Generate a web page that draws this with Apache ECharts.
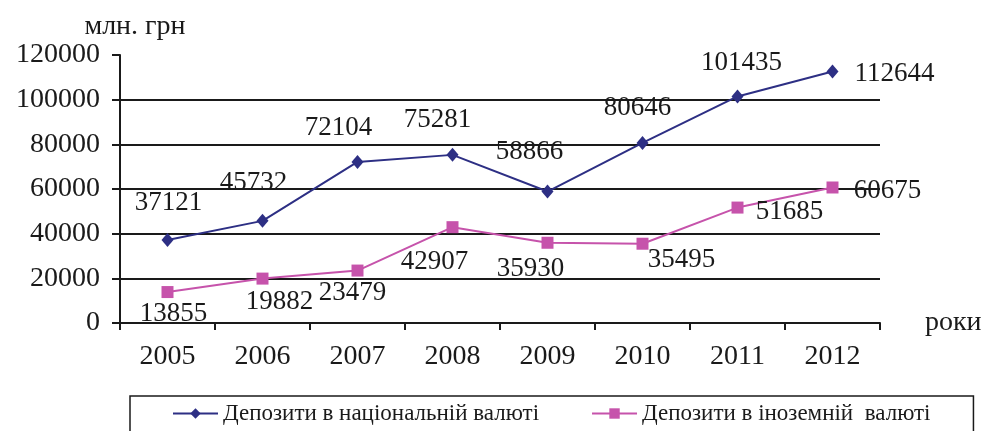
<!DOCTYPE html>
<html>
<head>
<meta charset="utf-8">
<script src="https://cdn.jsdelivr.net/npm/echarts@6/dist/echarts.min.js"></script>
<style>
html,body{margin:0;padding:0;background:#fff;}
#chart{width:985px;height:431px;}
</style>
</head>
<body>
<div id="chart"></div>
<script>
var years = ['2005','2006','2007','2008','2009','2010','2011','2012'];
var national = [37121, 45732, 72104, 75281, 58866, 80646, 101435, 112644];
var foreign = [13855, 19882, 23479, 42907, 35930, 35495, 51685, 60675];

// зсув підписів від точки (центр тексту відносно маркера)
var nationalLabelOffset = [[1,-37],[-9,-38],[-19,-34],[-15,-35],[-18,-40],[-5,-35],[4,-34],[62,2]];
var foreignLabelOffset = [[6,22],[17,23],[-5,22],[-18,35],[-17,26],[39,16],[52,4],[55,3]];

var font = 'Liberation Serif';
var nameNational = 'Депозити в національній валюті';
var nameForeign = 'Депозити в іноземній  валюті';

function withLabels(values, offsets){
    return values.map(function(v, i){
        return {
            value: v,
            label: {offset: offsets[i]}
        };
    });
}

var chart = echarts.init(document.getElementById('chart'));

var option = {
    animation: false,
    textStyle: {fontFamily: font},
    grid: {
        left: 120,
        right: 105,
        top: 55,
        bottom: 108
    },
    legend: {
        data: [nameNational, nameForeign],
        left: 130,
        top: 396,
        orient: 'horizontal',
        itemWidth: 45,
        itemHeight: 13,
        itemGap: 52,
        padding: [6, 43, 40, 42],
        borderColor: '#1a1a1a',
        borderWidth: 1.5,
        textStyle: {
            fontFamily: font,
            fontSize: 23,
            color: '#1a1a1a'
        }
    },
    xAxis: {
        type: 'category',
        data: years,
        boundaryGap: true,
        name: 'роки',
        nameLocation: 'end',
        nameGap: 45,
        nameTextStyle: {
            fontFamily: font,
            fontSize: 28,
            color: '#1a1a1a',
            padding: [20, 0, 0, 0]
        },
        axisLine: {lineStyle: {color: '#1a1a1a', width: 2}},
        axisTick: {show: true, length: 7, lineStyle: {color: '#1a1a1a', width: 2}},
        axisLabel: {
            fontFamily: font,
            fontSize: 28,
            color: '#1a1a1a',
            margin: 20
        },
        splitLine: {show: false}
    },
    yAxis: {
        type: 'value',
        min: 0,
        max: 120000,
        interval: 20000,
        name: 'млн. грн',
        nameLocation: 'end',
        nameGap: 13,
        nameTextStyle: {
            fontFamily: font,
            fontSize: 28,
            color: '#1a1a1a',
            padding: [0, 0, 0, 30]
        },
        axisLine: {show: true, lineStyle: {color: '#1a1a1a', width: 2}},
        axisTick: {show: true, length: 8, lineStyle: {color: '#1a1a1a', width: 2}},
        axisLabel: {
            fontFamily: font,
            fontSize: 28,
            color: '#1a1a1a',
            margin: 20,
            formatter: function(v){ return String(v); }
        },
        splitLine: {
            show: true,
            showMaxLine: false,
            lineStyle: {color: '#1a1a1a', width: 2}
        }
    },
    series: [
        {
            name: nameNational,
            type: 'line',
            data: withLabels(national, nationalLabelOffset),
            symbol: 'diamond',
            symbolSize: [12, 14],
            lineStyle: {color: '#2d2f84', width: 2},
            itemStyle: {color: '#2d2f84'},
            label: {
                show: true,
                position: 'inside',
                fontFamily: font,
                fontSize: 27,
                color: '#1a1a1a'
            }
        },
        {
            name: nameForeign,
            type: 'line',
            data: withLabels(foreign, foreignLabelOffset),
            symbol: 'rect',
            symbolSize: 12,
            lineStyle: {color: '#c653ab', width: 2},
            itemStyle: {color: '#c653ab'},
            label: {
                show: true,
                position: 'inside',
                fontFamily: font,
                fontSize: 27,
                color: '#1a1a1a'
            }
        }
    ]
};

chart.setOption(option);
</script>
</body>
</html>
